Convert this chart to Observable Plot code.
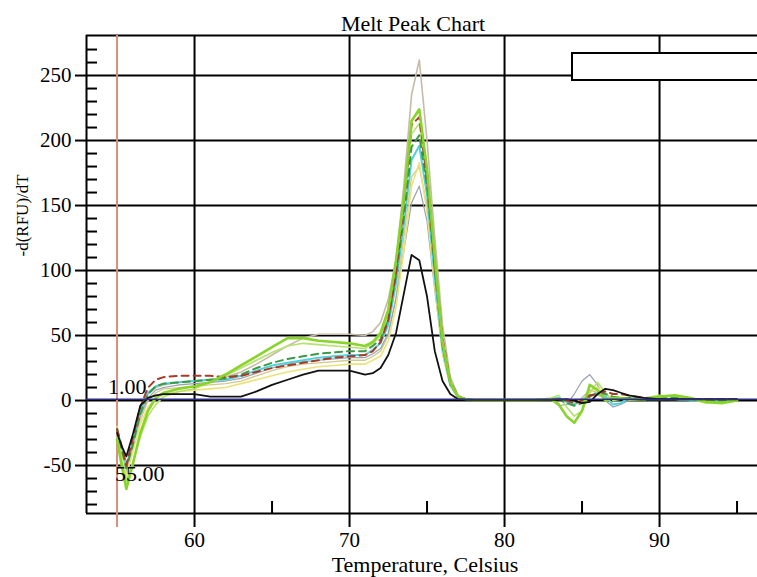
<!DOCTYPE html>
<html><head><meta charset="utf-8">
<script src="https://cdn.jsdelivr.net/npm/d3@7"></script>
<script src="https://cdn.jsdelivr.net/npm/@observablehq/plot@0.6"></script>
<style>html,body{margin:0;padding:0;background:#fff}svg{display:block}</style>
</head><body><div id="chart"></div>
<script>
const temps = [55, 55.3, 55.6, 56, 56.5, 57, 57.5, 58, 59, 60, 61, 62, 63, 64, 65, 66, 67, 68, 69, 70, 71, 71.5, 72, 72.5, 73, 73.5, 74, 74.5, 75, 75.5, 76, 76.5, 77, 77.5, 78, 80, 82, 83, 83.5, 84, 84.5, 85, 85.5, 86, 86.5, 87, 87.5, 88, 89, 90, 91, 92, 93, 94, 95];

const wellTan    = [-25,-40,-55,-35,-10,5,10,12,14,15, 16,18,22,28,35,42,48,51,51,51, 50,53,60,78,108,165,235,262,200,125, 58,18,4,1,0.5,0.5,0.5,1,2,0, -3,2,8,6,3,2,2,1,1,1, 1,1,0,0,0];
const wellOlive  = [-25,-42,-56,-40,-15,0,6,9,10,11, 12,13,15,19,23,26,28,29,30,31, 31,34,38,50,80,125,172,180,150,92, 38,12,3,1,0.5,0.5,0.5,1,2,-1, -2,1,4,4,2,1,1,1,1,1, 1,1,0,0,0];
const wellGray   = [-24,-38,-52,-35,-12,2,8,10,12,13, 14,15,17,21,25,28,30,31,32,33, 33,36,40,52,78,115,152,165,138,85, 36,11,2,1,0.5,0.5,0.5,1,-4,-3, 5,15,20,12,0,-5,-3,0,1,1, 1,1,0,0,0];
const wellYellow = [-20,-40,-58,-40,-18,-5,2,5,7,8, 9,10,13,16,19,22,24,26,27,28, 28,31,34,46,72,115,165,183,145,88, 36,11,2,1,0.5,0.5,0.5,1,2,0, -3,-1,6,10,5,1,2,2,1,1, 1,0,0,0,0];
const wellLight  = [-28,-45,-62,-48,-28,-12,-3,3,7,9, 14,19,25,31,37,42,44,43,42,41, 40,44,50,66,102,148,205,213,170,105, 43,13,3,1,0.5,0.5,0.5,2,4,-5, -12,-8,6,14,6,0,1,2,2,4, 3,1,-2,-1,0];
const wellCyan   = [-22,-36,-50,-33,-8,6,11,13,14,15, 16,16,19,23,27,29,31,33,34,35, 35,39,44,58,90,135,185,196,158,95, 40,12,3,1,0.5,0.5,0.5,1,2,-1, -3,0,4,5,3,-3,-2,2,1,1, 1,0,0,0,0];
const wellDkGrn  = [-22,-38,-52,-35,-10,5,11,13,14,15, 16,17,20,25,29,32,34,36,37,38, 38,42,47,62,96,140,195,204,165,100, 42,13,3,1,0.5,0.5,0.5,1,1,-2, -4,-2,3,6,5,3,2,2,1,2, 2,1,0,0,0];
const wellRed    = [-22,-35,-50,-30,-5,10,16,18,19,19, 19,18,19,22,25,27,29,31,33,34, 35,38,45,62,98,150,212,218,170,105, 48,15,3,1,0.5,0.5,0.5,1,1,0, -2,0,4,5,7,5,5,4,2,1, 1,1,1,1,1];
const wellGreen  = [-30,-50,-68,-50,-25,-8,2,6,9,11, 14,20,27,34,41,48,48,46,45,44, 42,45,52,70,108,155,215,224,178,110, 45,14,3,1,0.5,0.5,0.5,1,-3,-12, -17,-8,12,8,0,2,2,1,1,3, 4,2,-1,-2,0];
const wellBlack  = [-25,-35,-43,-27,-4,2,4,5,5,5, 3,3,3,7,12,16,20,23,23,23, 20,21,25,35,52,82,112,108,80,38, 15,5,1,0.5,0.5,0.5,0.5,0.5,0.5,1, 0,-2,-1,5,9,8,6,4,2,1, 1,1,1,1,1];

const xTicks = [60, 70, 80, 90];
const xMinor = [65, 75, 85, 95];
const yTicks = [-50, 0, 50, 100, 150, 200, 250];
const yMinor = [-80,-70,-60,-40,-30,-20,-10,10,20,30,40,60,70,80,90,110,120,130,140,160,170,180,190,210,220,230,240,260,270];
const cursorT = 55.00;
const cursorV = 1.00;

const series = [
  {values: wellTan,    color: "#c6bba8", w: 1.6},
  {values: wellOlive,  color: "#cfc98a", w: 1.3},
  {values: wellGray,   color: "#9aa0b2", w: 1.2},
  {values: wellYellow, color: "#ece27a", w: 1.6},
  {values: wellLight,  color: "#b6e16c", w: 1.6},
  {values: wellCyan,   color: "#4fd3db", w: 2},
  {values: wellDkGrn,  color: "#3a9a46", w: 2, dash: "7,5"},
  {values: wellRed,    color: "#a83a2a", w: 2, dash: "7,5"},
  {values: wellGreen,  color: "#88d42a", w: 2.6},
  {values: wellBlack,  color: "#111111", w: 1.8}
];

const font = "Liberation Serif, Times New Roman, serif";

const chart = Plot.plot({
  width: 757, height: 577,
  marginLeft: 86, marginRight: 0, marginTop: 35, marginBottom: 64,
  x: {domain: [53.03, 96.32]},
  y: {domain: [-86.9, 280.8]},
  style: {fontFamily: font, background: "#fff", color: "#000", overflow: "visible"},
  marks: [
    Plot.gridX(xTicks, {stroke: "#000", strokeOpacity: 1, strokeWidth: 2}),
    Plot.gridY(yTicks, {stroke: "#000", strokeOpacity: 1, strokeWidth: 2}),
    Plot.ruleY([-86.9, 280.8], {stroke: "#000", strokeWidth: 2}),
    Plot.ruleX([53.03], {stroke: "#000", strokeWidth: 2}),
    Plot.axisX(xTicks, {anchor: "bottom", tickSize: 14, tickPadding: 5, strokeWidth: 2, fontSize: 21, label: null, tickFormat: d => String(d)}),
    Plot.axisX(xMinor, {anchor: "bottom", tickSize: 12, dy: -12, strokeWidth: 2, fill: "none", label: null}),
    Plot.axisY(yTicks, {anchor: "left", tickSize: 11, tickPadding: 4, strokeWidth: 2, fontSize: 21, label: null, tickFormat: d => String(d)}),
    Plot.axisY(yMinor, {anchor: "left", tickSize: 11, dx: 11, strokeWidth: 2, fill: "none", label: null}),
    Plot.ruleX([cursorT], {stroke: "#d4907c", strokeWidth: 2, insetBottom: -14}),
    ...series.map(s => Plot.line(temps.map((t, i) => ({t, v: s.values[i]})), {
      x: "t", y: "v", stroke: s.color, strokeWidth: s.w, strokeDasharray: s.dash
    })),
    Plot.ruleY([cursorV], {stroke: "#2c2c80", strokeWidth: 1.5}),
    Plot.text([cursorV], {x: cursorT, y: d => d, text: d => d.toFixed(2), textAnchor: "start", lineAnchor: "bottom", dx: -9, dy: -5, fontSize: 22, fill: "#000"}),
    Plot.text([cursorT], {x: d => d, frameAnchor: "bottom", text: d => d.toFixed(2), textAnchor: "start", lineAnchor: "bottom", dx: -2, dy: -33, fontSize: 22, fill: "#000"}),
    Plot.text(["Melt Peak Chart"], {frameAnchor: "top", lineAnchor: "bottom", dx: -9, dy: -5, fontSize: 22, fill: "#000"}),
    Plot.text(["Temperature, Celsius"], {frameAnchor: "bottom", lineAnchor: "bottom", dx: 3, dy: 58, fontSize: 22, fill: "#000"}),
    Plot.text(["-d(RFU)/dT"], {frameAnchor: "left", rotate: -90, lineAnchor: "middle", dx: -64, dy: -18, fontSize: 17, fill: "#000"})
  ]
});

// empty legend box (top right)
d3.select(chart).append("rect")
  .attr("x", 572).attr("y", 53).attr("width", 200).attr("height", 27)
  .attr("fill", "#fff").attr("stroke", "#000").attr("stroke-width", 2);

document.getElementById("chart").appendChild(chart);
</script>
</body></html>
